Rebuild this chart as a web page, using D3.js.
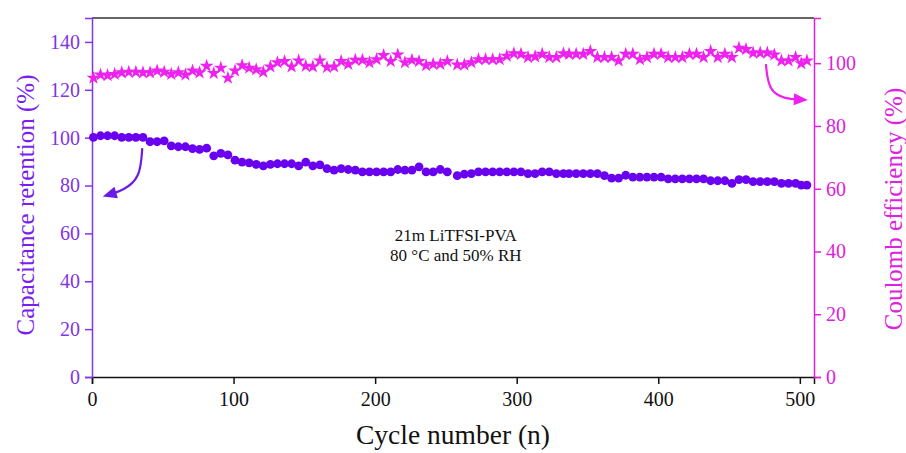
<!DOCTYPE html>
<html>
<head>
<meta charset="utf-8">
<script src="https://cdn.jsdelivr.net/npm/d3@7"></script>
<style>
  body { margin: 0; background: #fff; }
  svg { display: block; font-family: "Liberation Serif", "Times New Roman", serif; }
</style>
</head>
<body>
<div id="chart"></div>
<script>
// cycle numbers (every 5th cycle)
let cycles = [1, 6, 11, 16, 21, 26, 31, 36, 41, 46, 51, 56, 61, 66, 71, 76, 81, 86, 91, 96,
    101, 106, 111, 116, 121, 126, 131, 136, 141, 146, 151, 156, 161, 166, 171, 176, 181, 186, 191, 196,
    201, 206, 211, 216, 221, 226, 231, 236, 241, 246, 251, 258, 263, 268, 273, 278, 283, 288, 293, 298,
    303, 308, 313, 318, 323, 328, 333, 337, 342, 347, 352, 357, 362, 367, 372, 377, 382, 387, 392, 397,
    402, 407, 412, 417, 422, 427, 432, 437, 442, 447, 452, 457, 462, 467, 472, 477, 482, 487, 492, 497,
    501, 505];

// capacitance retention (%), left axis
let retention = [100.1, 100.8, 100.8, 100.8, 100.1, 100.1, 100.1, 100.1, 98.3, 98.3,
    98.7, 96.6, 96.2, 96.2, 95.4, 95.1, 95.6, 92.4, 93.4, 92.8,
    90.6, 89.8, 89.5, 88.8, 88.2, 88.8, 89.1, 89.1, 89.1, 88.2,
    89.8, 88.2, 88.6, 87.1, 86.4, 87.1, 86.7, 86.4, 85.7, 85.7,
    85.7, 85.7, 85.7, 86.7, 86.4, 86.4, 87.8, 85.7, 85.7, 86.7,
    85.7, 84.1, 84.8, 85.0, 85.7, 85.7, 85.7, 85.7, 85.7, 85.7,
    85.7, 85.0, 85.0, 85.7, 85.7, 85.0, 85.0, 85.0, 85.0, 85.0,
    85.0, 85.0, 84.1, 83.1, 83.1, 84.3, 83.5, 83.5, 83.5, 83.5,
    83.5, 82.8, 82.8, 82.8, 82.8, 82.8, 82.8, 82.0, 82.0, 82.0,
    80.9, 82.5, 82.5, 81.6, 81.6, 81.6, 81.6, 80.9, 80.9, 80.9,
    80.2, 80.2];

// coulomb efficiency (%), right axis
let efficiency = [95.3, 96.3, 96.1, 96.5, 97.0, 97.2, 97.2, 97.0, 97.0, 97.6,
    97.2, 96.5, 97.0, 96.3, 97.6, 97.0, 99.1, 96.8, 98.5, 95.3,
    97.6, 99.3, 98.5, 98.0, 97.2, 98.9, 100.2, 100.6, 98.9, 100.8,
    99.1, 98.9, 100.8, 98.7, 98.9, 100.6, 99.7, 101.0, 101.0, 100.2,
    101.2, 102.5, 100.6, 102.7, 100.2, 101.0, 100.6, 99.3, 99.7, 99.7,
    100.6, 99.5, 99.5, 100.2, 101.2, 101.2, 101.2, 101.2, 102.3, 103.1,
    102.9, 101.9, 102.1, 102.9, 101.9, 101.9, 103.1, 102.9, 102.9, 102.9,
    103.8, 101.9, 101.9, 101.9, 100.8, 102.9, 102.9, 101.2, 101.9, 102.9,
    102.9, 101.9, 101.9, 101.9, 102.9, 102.9, 101.9, 103.8, 101.9, 102.9,
    101.9, 104.8, 104.4, 103.3, 103.3, 103.3, 102.7, 100.8, 100.8, 101.9,
    99.9, 100.8];

let xTicks = [0, 100, 200, 300, 400, 500];
let leftTicks = [0, 20, 40, 60, 80, 100, 120, 140];
let rightTicks = [0, 20, 40, 60, 80, 100];
let noteLines = ["21m LiTFSI-PVA", "80 \u00b0C and 50% RH"];

// arrows, in data units: [cycle, value]
let leftArrow = [[35.5, 95.6], [34, 83], [22, 78], [13, 76.4]];
let rightArrow = [[476, 99.7], [478, 91], [490, 88.6], [500, 88.4]];

let w = 906, h = 453;
let margin = { top: 18, right: 92, bottom: 76, left: 92 };
let purple = "#6a00f0", purpleText = "#8035e8";
let magenta = "#ee22ee", magentaText = "#e020e0";

let svg = d3.select("#chart").append("svg")
    .attr("width", w)
    .attr("height", h);

let x = d3.scaleLinear().domain([0, 510]).range([margin.left, w - margin.right]);
let yL = d3.scaleLinear().domain([0, 150]).range([h - margin.bottom, margin.top]);
let yR = d3.scaleLinear().domain([0, 114.4]).range([h - margin.bottom, margin.top]);

// top frame line
svg.append("line")
    .attr("x1", margin.left).attr("x2", w - margin.right)
    .attr("y1", margin.top).attr("y2", margin.top)
    .attr("stroke", "#333").attr("stroke-width", 1.5);

// bottom axis
let gx = svg.append("g")
    .attr("transform", "translate(0," + (h - margin.bottom) + ")");
gx.call(d3.axisBottom(x).tickValues(d3.range(0, 510, 50)).tickSize(4).tickFormat(""));
gx.call(d3.axisBottom(x).tickValues(xTicks).tickSize(7).tickPadding(8).tickFormat(d3.format("d")));
gx.selectAll("path, line").attr("stroke", "#111").attr("stroke-width", 1.5);
gx.selectAll("text").attr("font-size", 20).attr("font-family", "Liberation Serif").attr("fill", "#111");

// left axis
let gl = svg.append("g")
    .attr("transform", "translate(" + margin.left + ",0)");
gl.call(d3.axisLeft(yL).tickValues(d3.range(10, 150, 20)).tickSize(4).tickFormat(""));
gl.call(d3.axisLeft(yL).tickValues(leftTicks).tickSize(7).tickPadding(5));
gl.selectAll("path, line").attr("stroke", purpleText).attr("stroke-width", 1.5);
gl.selectAll("text").attr("font-size", 20).attr("font-family", "Liberation Serif").attr("fill", purpleText);

// right axis
let gr = svg.append("g")
    .attr("transform", "translate(" + (w - margin.right) + ",0)");
gr.call(d3.axisRight(yR).tickValues(d3.range(10, 114, 20)).tickSize(4).tickFormat(""));
gr.call(d3.axisRight(yR).tickValues(rightTicks).tickSize(7).tickPadding(5));
gr.selectAll("path, line").attr("stroke", magentaText).attr("stroke-width", 1.5);
gr.selectAll("text").attr("font-size", 20).attr("font-family", "Liberation Serif").attr("fill", magentaText);

// axis titles
svg.append("text")
    .attr("transform", "translate(34,205) rotate(-90)")
    .attr("text-anchor", "middle")
    .attr("font-size", 25)
    .attr("fill", "#7a1ff0")
    .text("Capacitance retention (%)");

svg.append("text")
    .attr("transform", "translate(902,209) rotate(-90)")
    .attr("text-anchor", "middle")
    .attr("font-size", 25)
    .attr("fill", magentaText)
    .text("Coulomb efficiency (%)");

svg.append("text")
    .attr("x", x(255))
    .attr("y", 444)
    .attr("text-anchor", "middle")
    .attr("font-size", 27.5)
    .attr("fill", "#111")
    .text("Cycle number (n)");

// annotation
svg.selectAll(".note")
    .data(noteLines)
    .enter()
    .append("text")
    .attr("class", "note")
    .attr("x", x(257))
    .attr("y", (d, i) => yL(57) + i * 20)
    .attr("text-anchor", "middle")
    .attr("font-size", 17)
    .attr("fill", "#111")
    .text((d) => d);

// data
let pts = cycles.map((c, i) => ({ c: c, r: retention[i], e: efficiency[i] }));

let star = d3.symbol().type(d3.symbolStar).size(60);
svg.selectAll(".star")
    .data(pts)
    .enter()
    .append("path")
    .attr("class", "star")
    .attr("d", star)
    .attr("transform", (d) => "translate(" + x(d.c) + "," + yR(d.e) + ")")
    .attr("fill", magenta);

svg.selectAll(".dot")
    .data(pts)
    .enter()
    .append("circle")
    .attr("class", "dot")
    .attr("cx", (d) => x(d.c))
    .attr("cy", (d) => yL(d.r))
    .attr("r", 4.4)
    .attr("fill", purple);

// arrows
function drawArrow(points, yScale, color) {
    let line = d3.line()
        .x((d) => x(d[0]))
        .y((d) => yScale(d[1]))
        .curve(d3.curveBasis);
    svg.append("path")
        .attr("d", line(points))
        .attr("fill", "none")
        .attr("stroke", color)
        .attr("stroke-width", 2.2);
    let a = points[points.length - 2], b = points[points.length - 1];
    let x1 = x(a[0]), y1 = yScale(a[1]), x2 = x(b[0]), y2 = yScale(b[1]);
    let ang = Math.atan2(y2 - y1, x2 - x1);
    let len = 14, half = 6;
    let tip = [x2 + Math.cos(ang) * 8, y2 + Math.sin(ang) * 8];
    let base = [tip[0] - Math.cos(ang) * len, tip[1] - Math.sin(ang) * len];
    let p1 = [base[0] - Math.sin(ang) * half, base[1] + Math.cos(ang) * half];
    let p2 = [base[0] + Math.sin(ang) * half, base[1] - Math.cos(ang) * half];
    svg.append("path")
        .attr("d", "M" + tip + "L" + p1 + "L" + p2 + "Z")
        .attr("fill", color);
}
drawArrow(leftArrow, yL, "#6a1be8");
drawArrow(rightArrow, yR, magenta);
</script>
</body>
</html>
